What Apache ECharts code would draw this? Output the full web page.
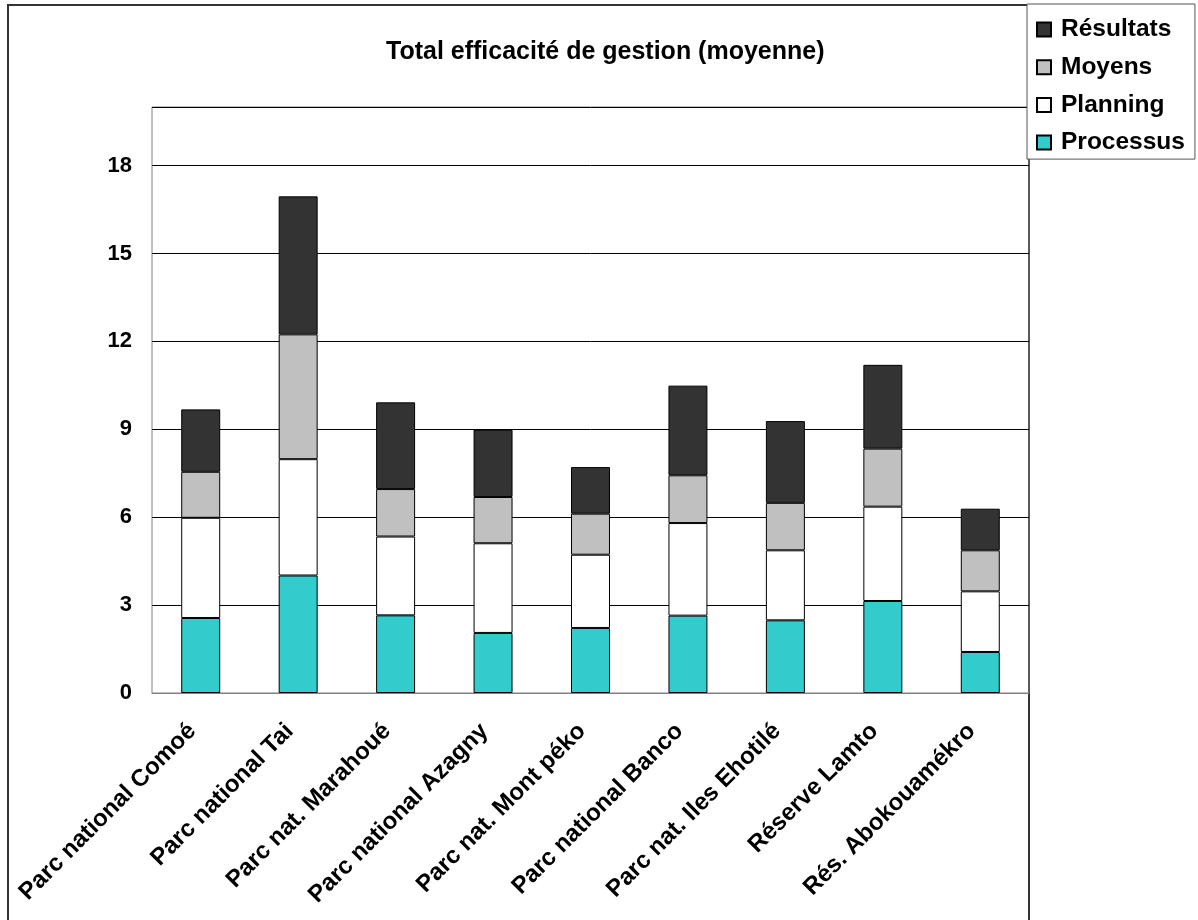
<!DOCTYPE html>
<html>
<head>
<meta charset="utf-8">
<script src="https://cdn.jsdelivr.net/npm/echarts@6/dist/echarts.min.js"></script>
<style>
html,body{margin:0;padding:0;background:#fff;}
#c{width:1198px;height:920px;}
</style>
</head>
<body>
<div id="c"></div>
<script>
var categories = ["Parc national Comoé", "Parc national Tai", "Parc nat. Marahoué", "Parc national Azagny", "Parc nat. Mont péko", "Parc national Banco", "Parc nat. Iles Ehotilé", "Réserve Lamto", "Rés. Abokouamékro"];
var processus = [2.56, 4.01, 2.65, 2.05, 2.22, 2.64, 2.48, 3.14, 1.40];
var planning  = [3.42, 3.97, 2.69, 3.06, 2.50, 3.16, 2.39, 3.22, 2.07];
var moyens    = [1.57, 4.26, 1.62, 1.58, 1.40, 1.63, 1.62, 1.98, 1.40];
var resultats = [2.13, 4.71, 2.96, 2.30, 1.59, 3.06, 2.79, 2.86, 1.42];
var yTicks = [0, 3, 6, 9, 12, 15, 18];
var titleText = "Total efficacité de gestion (moyenne)";

var FONT = '"Liberation Sans", Arial, sans-serif';
var chart = echarts.init(document.getElementById('c'), null, {renderer: 'canvas'});

function mk(name, data, color) {
  return {
    name: name, type: 'bar', stack: 'total', data: data, barWidth: '40%',
    itemStyle: {color: color, borderColor: '#000', borderWidth: 1},
    emphasis: {disabled: true}
  };
}

chart.setOption({
  animation: false,
  backgroundColor: '#fff',
  textStyle: {fontFamily: FONT},
  graphic: [{
    type: 'rect', z: -10, silent: true,
    shape: {x: 8, y: 5, width: 1021, height: 940},
    style: {fill: '#fff', stroke: '#333', lineWidth: 2}
  }],
  title: {
    text: titleText, left: 381, top: 35,
    textStyle: {fontFamily: FONT, fontWeight: 'bold', fontSize: 25, color: '#000'}
  },
  legend: {
    orient: 'vertical', left: 1027, top: 4,
    data: ['Résultats', 'Moyens', 'Planning', 'Processus'],
    backgroundColor: '#fff', borderColor: '#555', borderWidth: 1,
    padding: [13, 10, 4, 9], itemGap: 12.7,
    itemWidth: 14, itemHeight: 14, icon: 'rect',
    textStyle: {fontFamily: FONT, fontWeight: 'bold', fontSize: 24.5, color: '#000', lineHeight: 24, height: 24, padding: [0, 0, 0, 5]}
  },
  grid: {left: 152, right: 169, top: 107, bottom: 227, show: true, borderColor: '#808080', borderWidth: 1, containLabel: false},
  xAxis: {
    type: 'category', data: categories,
    axisLine: {show: true, lineStyle: {color: '#808080', width: 1}},
    axisTick: {show: false},
    axisLabel: {rotate: 45, margin: 26, interval: 0, padding: [0, 12, 0, 0], fontFamily: FONT, fontWeight: 'bold', fontSize: 24, color: '#000'}
  },
  yAxis: {
    type: 'value', min: 0, max: 20, interval: 3,
    axisLine: {show: false}, axisTick: {show: false},
    axisLabel: {margin: 20, fontFamily: FONT, fontWeight: 'bold', fontSize: 22, color: '#000',
      formatter: function (v) { return yTicks.indexOf(v) >= 0 ? String(v) : ''; }},
    splitLine: {show: true, lineStyle: {color: '#000', width: 1}}
  },
  series: [
    mk('Processus', processus, '#33CCCC'),
    mk('Planning', planning, '#FFFFFF'),
    mk('Moyens', moyens, '#C0C0C0'),
    mk('Résultats', resultats, '#333333')
  ]
});
</script>
</body>
</html>
